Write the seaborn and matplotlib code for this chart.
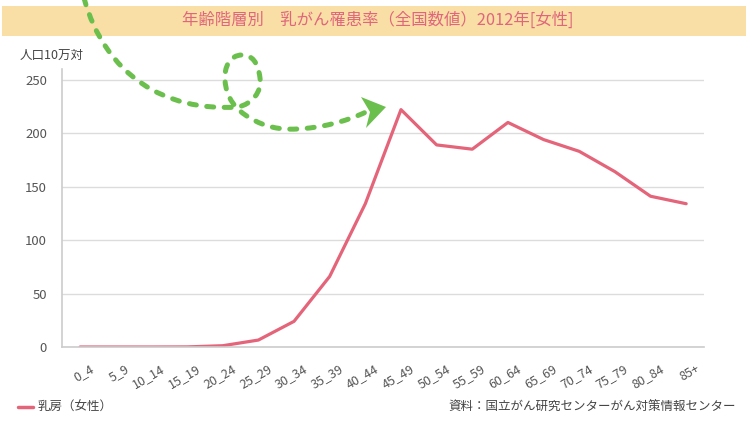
import numpy as np
import pandas as pd
import seaborn as sns
import matplotlib.pyplot as plt
import matplotlib.transforms as mtransforms
from matplotlib.path import Path
from matplotlib.patches import PathPatch, Polygon, Rectangle
from matplotlib.lines import Line2D

age_groups = ['0_4', '5_9', '10_14', '15_19', '20_24', '25_29', '30_34', '35_39', '40_44',
              '45_49', '50_54', '55_59', '60_64', '65_69', '70_74', '75_79', '80_84', '85+']
rate = [0, 0, 0, 0.1, 1.2, 6.5, 24, 66, 134, 222, 189, 185, 210, 194, 183, 164, 141, 134]
y_ticks = [0, 50, 100, 150, 200, 250]

title = '年齢階層別　乳がん罹患率（全国数値）2012年[女性]'
y_unit = '人口10万対'
series_name = '乳房（女性）'
source = '資料：国立がん研究センターがん対策情報センター'

LINE_COLOR = '#e4647a'
GREEN = '#6bbf4c'

sns.set_style('white')
plt.rcParams['font.family'] = ['Noto Sans CJK JP', 'DejaVu Sans']

df = pd.DataFrame({'age': age_groups, 'rate': rate})
df['pos'] = np.arange(len(df))

W, H = 748, 428
fig = plt.figure(figsize=(W / 100, H / 100), dpi=100)
ax = fig.add_axes([62.3 / W, 1 - 347 / H, (704 - 62.3) / W, (347 - 69) / H])

sns.lineplot(data=df, x='pos', y='rate', color=LINE_COLOR, lw=2.3, ax=ax)

ax.set_xlim(-0.5, len(age_groups) - 0.5)
ax.set_ylim(0, 260)
ax.set_yticks(y_ticks)
ax.set_yticklabels([str(v) for v in y_ticks], fontsize=9.5, color='#555555')
ax.grid(axis='y', color='#dcdcdc', lw=1)
ax.set_axisbelow(True)

# category labels at centres, tick marks at the boundaries
ax.set_xticks(df['pos'])
ax.set_xticklabels(age_groups, rotation=30, ha='right', rotation_mode='anchor',
                   fontsize=9, color='#555555')
ax.set_xticks(np.arange(len(age_groups) + 1) - 0.5, minor=True)
ax.tick_params(axis='x', which='major', length=0, pad=11)
ax.tick_params(axis='x', which='minor', length=5, color='#cccccc', width=1)
ax.tick_params(axis='y', length=5, color='#cccccc', width=1, pad=6)
shift = mtransforms.ScaledTranslation(9 / 100, 0, fig.dpi_scale_trans)
for lab in ax.get_xticklabels():
    lab.set_transform(lab.get_transform() + shift)
ax.set_xlabel('')
ax.set_ylabel('')
for s in ['top', 'right']:
    ax.spines[s].set_visible(False)
for s in ['left', 'bottom']:
    ax.spines[s].set_color('#cccccc')
    ax.spines[s].set_linewidth(1.2)

# title band
fig.patches.append(Rectangle((2 / W, 1 - 36 / H), 744 / W, 30 / H, transform=fig.transFigure,
                             facecolor='#f9dfa6', edgecolor='none', zorder=0))
fig.text(0.505, 1 - 20 / H, title, ha='center', va='center', fontsize=11.8, color='#e0667c')
fig.text(20 / W, 1 - 55 / H, y_unit, ha='left', va='center', fontsize=9, color='#444444')

# legend and source
fig.lines.append(Line2D([18 / W, 33 / W], [1 - 407 / H] * 2, transform=fig.transFigure,
                        color=LINE_COLOR, lw=2.5))
fig.text(38 / W, 1 - 407 / H, series_name, ha='left', va='center', fontsize=9, color='#444444')
fig.text(736 / W, 1 - 407 / H, source, ha='right', va='center', fontsize=9, color='#444444')

# decorative green dashed arrow (pixel coords, y down)
def fp(x, y):
    return (x / W, 1 - y / H)

pts = [(84, -2), (105, 75), (165, 112), (238, 107),
       (252, 104), (262, 92), (260, 78),
       (258, 62), (252, 55), (242, 55),
       (230, 55), (224, 67), (225, 80),
       (226, 98), (236, 110), (250, 118),
       (265, 127), (280, 130), (297, 129),
       (320, 128), (345, 122), (366, 112)]
codes = [Path.MOVETO] + [Path.CURVE4] * (len(pts) - 1)
arrow_path = Path([fp(*p) for p in pts], codes)
fig.patches.append(PathPatch(arrow_path, transform=fig.transFigure, facecolor='none',
                             edgecolor=GREEN, lw=3.6, linestyle=(0, (1.4, 2.1)),
                             capstyle='round', zorder=5))
fig.patches.append(Polygon([fp(386, 107), fp(361, 97), fp(370, 112), fp(366, 128)],
                           closed=True, transform=fig.transFigure, facecolor=GREEN,
                           edgecolor='none', zorder=5))

fig.savefig('out.png', dpi=100)
